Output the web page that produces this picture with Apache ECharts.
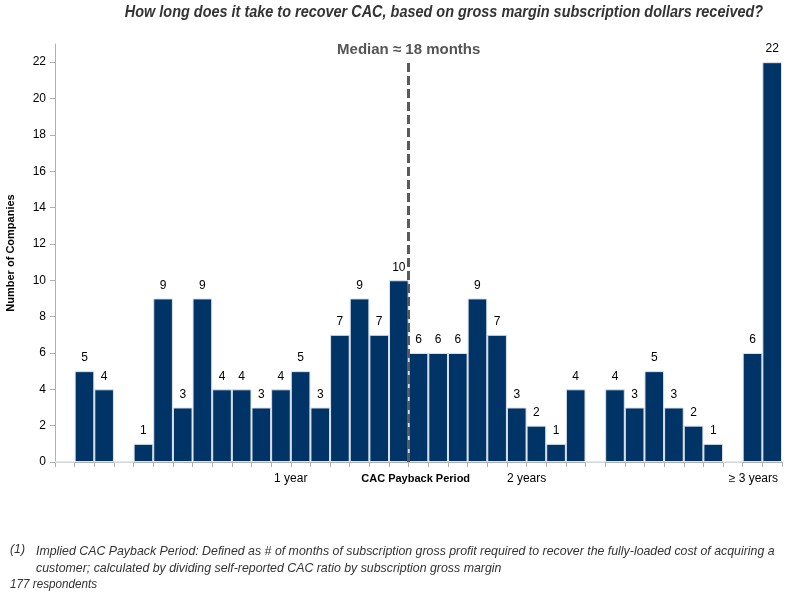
<!DOCTYPE html>
<html>
<head>
<meta charset="utf-8">
<script src="https://cdn.jsdelivr.net/npm/echarts@6/dist/echarts.min.js"></script>
<style>
  html, body { margin: 0; padding: 0; background: #fff; }
  #chart { width: 787px; height: 595px; }
</style>
</head>
<body>
<div id="chart"></div>
<script>
// months of payback, 36 = "3 years or more"
const months = [0, 1, 2, 3, 4, 5, 6, 7, 8, 9, 10, 11, 12, 13, 14, 15, 16, 17, 18,
  19, 20, 21, 22, 23, 24, 25, 26, 27, 28, 29, 30, 31, 32, 33, 34, 35, 36];
const companies = [0, 5, 4, 0, 1, 9, 3, 9, 4, 4, 3, 4, 5, 3, 7, 9, 7, 10, 6,
  6, 6, 9, 7, 3, 2, 1, 4, 0, 4, 3, 5, 3, 2, 1, 0, 6, 22];
const tickPositions = [12, 18, 24, 36];
const tickLabels = ['1 year', 'CAC Payback Period', '2 years', '≥ 3 years'];
const medianMonths = 18;

const chart = echarts.init(document.getElementById('chart'));
const font = '"Liberation Sans", Arial, sans-serif';

const option = {
  animation: false,
  grid: { left: 55, right: 5, top: 44, bottom: 133, outerBoundsMode: 'none' },
  xAxis: [
    {
      type: 'category',
      data: months,
      show: false
    },
    {
      type: 'value',
      position: 'bottom',
      min: 0,
      max: months.length,
      interval: 1,
      axisLine: { show: true, lineStyle: { color: '#b0b0b0', width: 1 } },
      axisTick: { show: true, length: 5, lineStyle: { color: '#b0b0b0' } },
      splitLine: { show: false },
      axisLabel: {
        margin: 11,
        fontFamily: font,
        fontSize: 12,
        color: '#000',
        formatter: function (v) {
          const i = tickPositions.indexOf(v);
          if (i < 0) return '';
          if (v === medianMonths) return '{b|' + tickLabels[i] + '}';
          if (v === 36) return '{r|' + tickLabels[i] + '}';
          return tickLabels[i];
        },
        rich: {
          b: { fontFamily: font, fontSize: 11, fontWeight: 'bold', color: '#000', padding: [0, 0, 0, 14] },
          r: { fontFamily: font, fontSize: 12, color: '#000', padding: [0, 18, 0, 0] }
        }
      }
    }
  ],
  yAxis: {
    type: 'value',
    min: 0,
    max: 23,
    interval: 2,
    name: 'Number of Companies',
    nameLocation: 'middle',
    nameGap: 39,
    nameTextStyle: { fontFamily: font, fontSize: 11, fontWeight: 'bold', color: '#000' },
    axisLine: { show: true, lineStyle: { color: '#b0b0b0' } },
    axisTick: { show: true, length: 5, lineStyle: { color: '#b0b0b0' } },
    splitLine: { show: false },
    axisLabel: {
      fontFamily: font,
      fontSize: 12,
      color: '#000',
      margin: 9,
      showMaxLabel: false
    }
  },
  series: [
    {
      type: 'bar',
      xAxisIndex: 0,
      data: companies,
      barCategoryGap: '0%',
      itemStyle: { color: '#003366', borderColor: '#dde3ea', borderWidth: 1 },
      label: {
        show: true,
        position: 'top',
        distance: 7,
        fontFamily: font,
        fontSize: 12,
        color: '#000',
        formatter: function (p) { return p.value > 0 ? p.value : ''; }
      }
    },
    {
      type: 'scatter',
      xAxisIndex: 1,
      data: [[medianMonths, 0]],
      symbolSize: 0,
      silent: true,
      markLine: {
        silent: true,
        symbol: ['none', 'none'],
        lineStyle: { color: '#5a5a5a', width: 3, type: [9, 4] },
        label: {
          show: true,
          position: 'end',
          distance: 5,
          formatter: 'Median ≈ 18 months',
          fontFamily: font,
          fontSize: 15,
          fontWeight: 'bold',
          color: '#555'
        },
        data: [[{ coord: [medianMonths, 0] }, { coord: [medianMonths, 22] }]]
      }
    }
  ],
  graphic: [
    {
      type: 'text', x: 444, y: 4, scaleX: 0.85,
      style: {
        text: 'How long does it take to recover CAC, based on gross margin subscription dollars received?',
        align: 'center', font: 'italic bold 17px ' + font, fill: '#333'
      }
    },
    {
      type: 'text', x: 10, y: 543, scaleX: 0.95,
      style: { text: '(1)', font: 'italic 13px ' + font, fill: '#333' }
    },
    {
      type: 'text', x: 36, y: 543, scaleX: 0.95,
      style: {
        text: 'Implied CAC Payback Period: Defined as # of months of subscription gross profit required to recover the fully-loaded cost of acquiring a\ncustomer; calculated by dividing self-reported CAC ratio by subscription gross margin',
        font: 'italic 13px ' + font, fill: '#333', lineHeight: 17
      }
    },
    {
      type: 'text', x: 10, y: 578, scaleX: 0.9,
      style: { text: '177 respondents', font: 'italic 13px ' + font, fill: '#333' }
    }
  ]
};

chart.setOption(option);
</script>
</body>
</html>
